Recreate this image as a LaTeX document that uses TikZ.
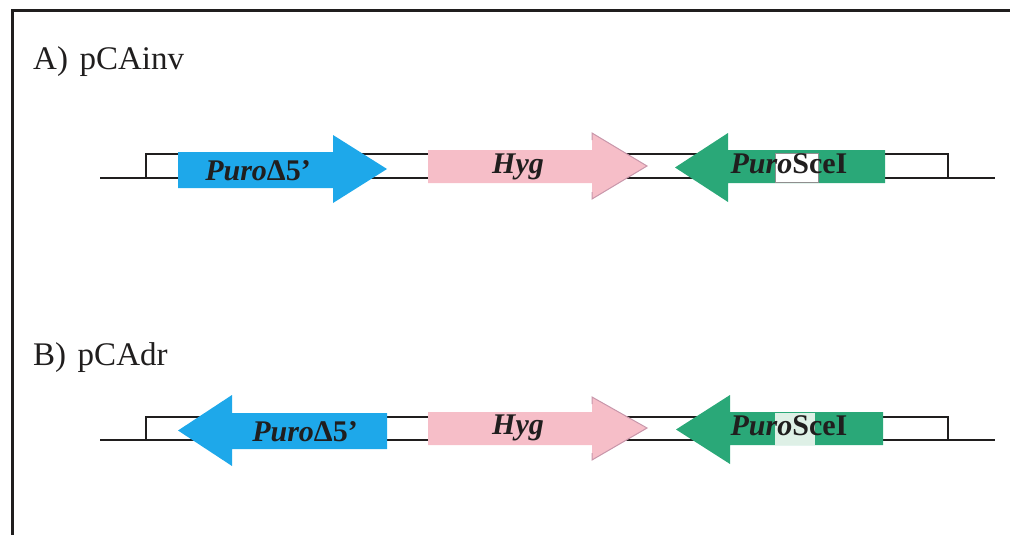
\documentclass[tikz,border=0pt]{standalone}
\usepackage{fontspec}
\setmainfont{Liberation Serif}
\definecolor{puroblue}{RGB}{30,168,234}
\definecolor{scegreen}{RGB}{42,168,120}
\definecolor{hygpink}{RGB}{246,190,200}
\definecolor{hygedge}{RGB}{200,150,170}
\definecolor{ink}{RGB}{32,30,30}
\definecolor{patchgreen}{RGB}{222,240,230}
% #1 colour, #2 tail x, #3 head base x, #4 body top, #5 body bottom,
% #6 head top, #7 head bottom, #8 tip x
\newcommand\genearrow[8]{%
  \fill[#1] (#2,#4) -- (#3,#4) -- (#3,#6) -- (#8,{(#6+#7)/2}) -- (#3,#7)
    -- (#3,#5) -- (#2,#5) -- cycle;}
\tikzset{
  dna/.style={draw=ink, line width=2.2pt},
  frameline/.style={draw=ink, line width=3pt},
  title/.style={font=\fontsize{33}{40}\selectfont, text=ink, anchor=base west, inner sep=0pt},
  genelabel/.style={font=\fontsize{30}{36}\selectfont\bfseries\itshape, text=ink, anchor=base, inner sep=0pt},
}
\begin{document}
\begin{tikzpicture}[x=1pt, y=-1pt]
\useasboundingbox (0,0) rectangle (1010,535);
% outer frame (only the left and top sides show)
\draw[frameline] (12,535) -- (12,11) -- (1010,11);

% ---------- A) pCAinv ----------
\node[title] (titleA) at (33,70) {A)\hspace{0.35em}pCAinv};
\draw[dna] (100,178) -- (995,178);
\draw[dna] (146,178) -- (146,154) -- (948,154) -- (948,178);
\genearrow{puroblue}{178}{333}{152}{188}{135}{203}{387}
\genearrow{hygpink}{428}{592}{150}{183}{133}{199}{647}
\draw[hygedge, line width=1pt] (592,140) -- (592,133) -- (647,166) -- (592,199) -- (592,192);
\genearrow{scegreen}{885}{728}{150}{183}{133}{202}{675}
\filldraw[fill=white, draw=ink!50, line width=0.6pt] (775,153) rectangle (818,182);
\node[genelabel] (puroA) at (258,180) {Puro{\upshape Δ5’}};
\node[genelabel] (hygA) at (518,173) {Hyg};
\node[genelabel] (sceA) at (789,173) {Puro\upshape SceI};

% ---------- B) pCAdr ----------
\node[title] (titleB) at (33,365) {B)\hspace{0.35em}pCAdr};
\draw[dna] (100,440) -- (995,440);
\draw[dna] (146,440) -- (146,417) -- (948,417) -- (948,440);
\genearrow{puroblue}{387}{232}{413}{449}{395}{466}{178}
\genearrow{hygpink}{428}{592}{412}{445}{397}{460}{647}
\draw[hygedge, line width=1pt] (592,404) -- (592,397) -- (647,428) -- (592,460) -- (592,453);
\genearrow{scegreen}{883}{730}{412}{445}{395}{464}{676}
\fill[patchgreen] (775,413) rectangle (815,445);
\node[genelabel] (puroB) at (305,441) {Puro{\upshape Δ5’}};
\node[genelabel] (hygB) at (518,434) {Hyg};
\node[genelabel] (sceB) at (789,435) {Puro\upshape SceI};
\end{tikzpicture}
\end{document}
